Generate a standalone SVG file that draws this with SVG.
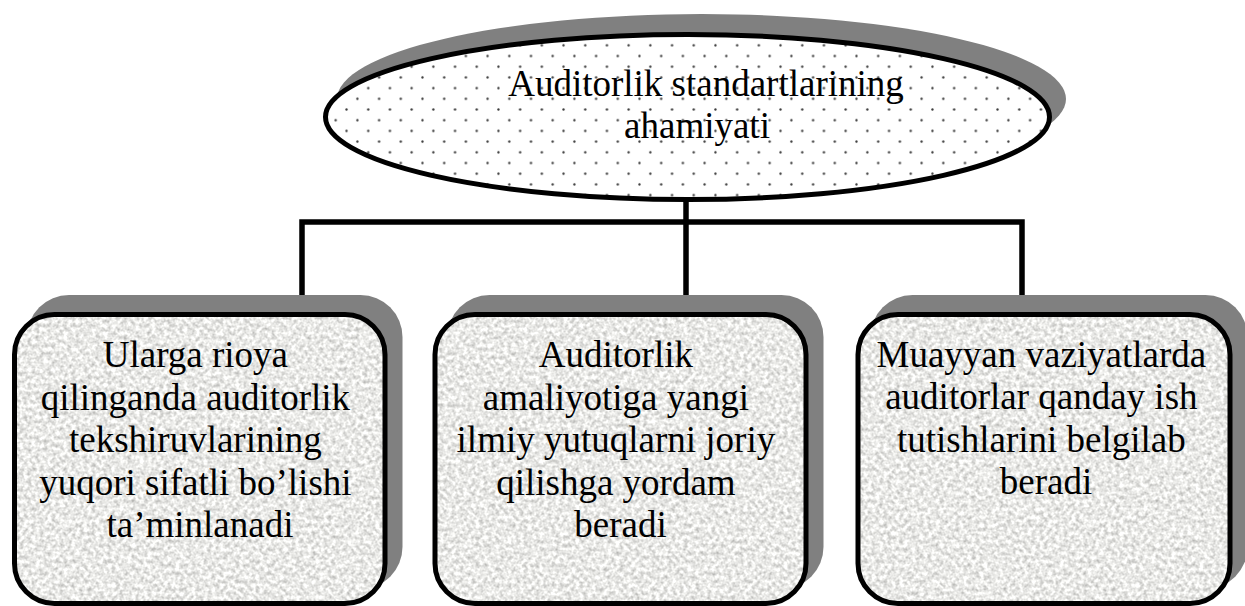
<svg xmlns="http://www.w3.org/2000/svg" width="1245" height="606" viewBox="0 0 1245 606">
  <defs>
    <style>
      .shadow { fill: #808080; }
      .outline { fill: none; stroke: #000; stroke-width: 5; }
      .label { font-size: 37px; fill: #000; text-anchor: middle; }
      .wire { fill: none; stroke: #000; stroke-width: 5.5; stroke-linejoin: miter; }
    </style>
    <!-- fine dot screen for the title ellipse -->
    <pattern id="dots" patternUnits="userSpaceOnUse" x="503.9" y="50.65" width="21.7" height="21.4">
      <rect width="21.7" height="21.4" fill="#fff"/>
      <circle cx="5.4" cy="5.35" r="1.15" fill="#3a3a3a"/>
      <circle cx="16.25" cy="16.05" r="1.15" fill="#3a3a3a"/>
    </pattern>
    <!-- light granite texture for the boxes -->
    <filter id="granite" x="0" y="0" width="100%" height="100%" color-interpolation-filters="sRGB">
      <feTurbulence type="fractalNoise" baseFrequency="0.25" numOctaves="4" seed="7" result="noise"/>
      <feColorMatrix in="noise" type="matrix" values="0.5 0 0 0 0.665  0.5 0 0 0 0.665  0.5 0 0 0 0.655  0 0 0 0 1" result="tone"/>
      <feComposite in="tone" in2="SourceGraphic" operator="in"/>
    </filter>
  </defs>

  <!-- connectors -->
  <g id="connectors">
    <path class="wire" d="M686,200 V296"/>
    <path class="wire" d="M302,296 V222 H1022 V296"/>
  </g>

  <!-- title ellipse -->
  <g id="title">
    <ellipse class="shadow" cx="701.5" cy="99" rx="364.5" ry="85"/>
    <ellipse cx="687.5" cy="117" rx="362" ry="82.5" fill="url(#dots)"/>
    <ellipse class="outline" cx="687.5" cy="117" rx="362" ry="82.5"/>
    <text class="label" font-family="Liberation Serif, Times New Roman, DejaVu Serif, serif"><tspan x="706" y="96">Auditorlik standartlarining</tspan><tspan x="697" y="138">ahamiyati</tspan></text>
  </g>

  <!-- box 1 -->
  <g id="box1">
    <rect class="shadow" x="27" y="295" width="375.5" height="294" rx="42"/>
    <rect x="14.5" y="314.5" width="370.5" height="289" rx="40" fill="#000" filter="url(#granite)"/>
    <rect class="outline" x="14.5" y="314.5" width="370.5" height="289" rx="40"/>
    <text class="label" font-family="Liberation Serif, Times New Roman, DejaVu Serif, serif">
      <tspan x="200" y="367">Ularga rioya</tspan>
      <tspan x="200" y="409.5">qilinganda auditorlik</tspan>
      <tspan x="200" y="452">tekshiruvlarining</tspan>
      <tspan x="200" y="494.5">yuqori sifatli bo’lishi</tspan>
      <tspan x="200" y="537">ta’minlanadi</tspan>
    </text>
  </g>

  <!-- box 2 -->
  <g id="box2">
    <rect class="shadow" x="447.5" y="295" width="376" height="294" rx="42"/>
    <rect x="435" y="314.5" width="371" height="289" rx="40" fill="#000" filter="url(#granite)"/>
    <rect class="outline" x="435" y="314.5" width="371" height="289" rx="40"/>
    <text class="label" font-family="Liberation Serif, Times New Roman, DejaVu Serif, serif">
      <tspan x="620.5" y="367">Auditorlik</tspan>
      <tspan x="620.5" y="409.5">amaliyotiga yangi</tspan>
      <tspan x="620.5" y="452">ilmiy yutuqlarni joriy</tspan>
      <tspan x="620.5" y="494.5">qilishga yordam</tspan>
      <tspan x="620.5" y="537">beradi</tspan>
    </text>
  </g>

  <!-- box 3 -->
  <g id="box3">
    <rect class="shadow" x="870.5" y="295" width="377" height="294" rx="42"/>
    <rect x="858" y="314.5" width="372" height="289" rx="40" fill="#000" filter="url(#granite)"/>
    <rect class="outline" x="858" y="314.5" width="372" height="289" rx="40"/>
    <text class="label" font-family="Liberation Serif, Times New Roman, DejaVu Serif, serif">
      <tspan x="1046" y="367">Muayyan vaziyatlarda</tspan>
      <tspan x="1046" y="409">auditorlar qanday ish</tspan>
      <tspan x="1046" y="452">tutishlarini belgilab</tspan>
      <tspan x="1046" y="494">beradi</tspan>
    </text>
  </g>
</svg>
